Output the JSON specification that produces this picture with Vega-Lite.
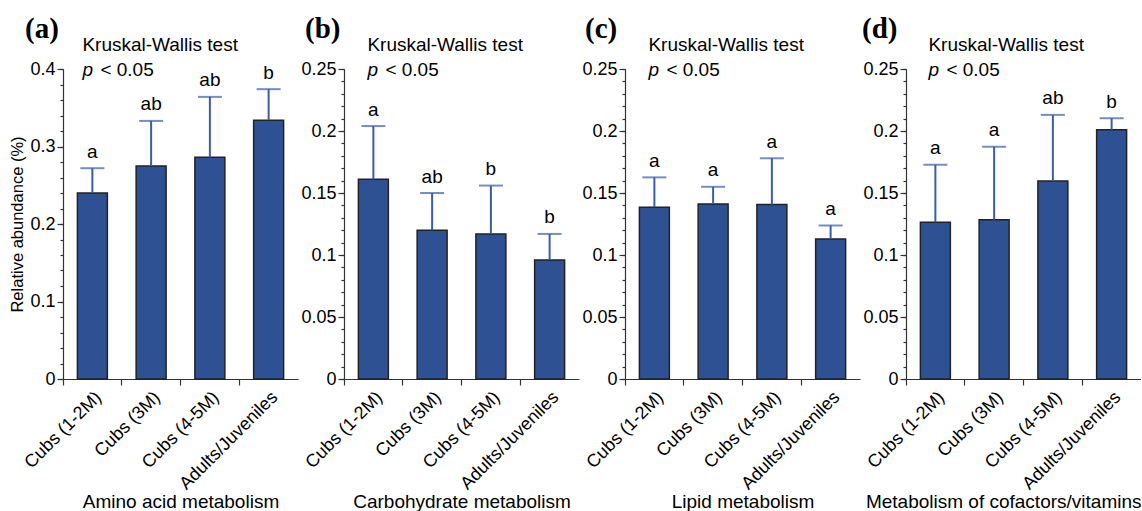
{
  "$schema": "https://vega.github.io/schema/vega-lite/v6.json",
  "background": "white",
  "padding": {"left": 9, "top": 15, "right": 0, "bottom": 0},
  "bounds": "flush",
  "spacing": 46,
  "datasets": {
    "bars": [
      {"panel": "a", "group": "Cubs (1-2M)", "mean": 0.240, "upper": 0.272, "letter": "a"},
      {"panel": "a", "group": "Cubs (3M)", "mean": 0.275, "upper": 0.333, "letter": "ab"},
      {"panel": "a", "group": "Cubs (4-5M)", "mean": 0.286, "upper": 0.364, "letter": "ab"},
      {"panel": "a", "group": "Adults/Juveniles", "mean": 0.334, "upper": 0.374, "letter": "b"},
      {"panel": "b", "group": "Cubs (1-2M)", "mean": 0.161, "upper": 0.204, "letter": "a"},
      {"panel": "b", "group": "Cubs (3M)", "mean": 0.120, "upper": 0.150, "letter": "ab"},
      {"panel": "b", "group": "Cubs (4-5M)", "mean": 0.117, "upper": 0.156, "letter": "b"},
      {"panel": "b", "group": "Adults/Juveniles", "mean": 0.096, "upper": 0.117, "letter": "b"},
      {"panel": "c", "group": "Cubs (1-2M)", "mean": 0.1385, "upper": 0.1626, "letter": "a"},
      {"panel": "c", "group": "Cubs (3M)", "mean": 0.1412, "upper": 0.155, "letter": "a"},
      {"panel": "c", "group": "Cubs (4-5M)", "mean": 0.1407, "upper": 0.178, "letter": "a"},
      {"panel": "c", "group": "Adults/Juveniles", "mean": 0.113, "upper": 0.1238, "letter": "a"},
      {"panel": "d", "group": "Cubs (1-2M)", "mean": 0.1265, "upper": 0.1728, "letter": "a"},
      {"panel": "d", "group": "Cubs (3M)", "mean": 0.1284, "upper": 0.1873, "letter": "a"},
      {"panel": "d", "group": "Cubs (4-5M)", "mean": 0.1597, "upper": 0.213, "letter": "ab"},
      {"panel": "d", "group": "Adults/Juveniles", "mean": 0.201, "upper": 0.2103, "letter": "b"}
    ]
  },
  "hconcat": [
    {
      "width": 235, "height": 310,
      "title": {"text": "(a)", "anchor": "start", "frame": "group", "dx": -38, "font": "Liberation Serif", "fontSize": 29, "fontWeight": "bold", "color": "black", "offset": -8},
      "data": {"name": "bars"},
      "transform": [{"filter": "datum.panel === 'a'"}],
      "resolve": {"axis": {"x": "independent", "y": "independent"}},
      "layer": [
        {"mark": {"type": "bar", "width": {"band": 0.51}, "fill": "#2E5193", "stroke": "#222222", "strokeWidth": 1.5},
         "encoding": {
           "x": {"field": "group", "type": "nominal", "scale": {"domain": ["Cubs (1-2M)", "Cubs (3M)", "Cubs (4-5M)", "Adults/Juveniles"], "paddingInner": 0, "paddingOuter": 0},
                 "axis": {"orient": "bottom", "ticks": false, "labelAngle": -45, "labelAlign": "right", "labelBaseline": "top", "labelPadding": 9, "labelFontSize": 18, "title": "Amino acid metabolism", "titleFontSize": 19, "titlePadding": 0}},
           "y": {"field": "mean", "type": "quantitative", "scale": {"domain": [0, 0.4], "nice": false},
                 "axis": {"orient": "left", "values": [0, 0.1, 0.2, 0.3, 0.4], "format": "~g", "tickSize": 6, "labelPadding": 2, "labelFontSize": 18, "title": "Relative abundance (%)", "titleFontSize": 16.5}}
         }},
        {"mark": {"type": "rule", "color": "#3A5DA8", "strokeWidth": 2},
         "encoding": {
           "x": {"field": "group", "type": "nominal", "axis": {"orient": "bottom", "bandPosition": 0, "labels": false, "domain": false, "tickSize": 6, "title": null}},
           "y": {"field": "mean", "type": "quantitative", "axis": {"orient": "left", "values": [0, 0.02, 0.04, 0.06, 0.08, 0.1, 0.12, 0.14, 0.16, 0.18, 0.2, 0.22, 0.24, 0.26, 0.28, 0.3, 0.32, 0.34, 0.36, 0.38, 0.4], "labels": false, "domain": false, "tickSize": 3, "title": null}},
           "y2": {"field": "upper"}
         }},
        {"mark": {"type": "tick", "color": "#3A5DA8", "thickness": 2, "size": 24},
         "encoding": {"x": {"field": "group", "type": "nominal", "axis": null}, "y": {"field": "upper", "type": "quantitative", "axis": null}}},
        {"mark": {"type": "text", "fontSize": 19, "dy": -10.5, "baseline": "alphabetic", "color": "black"},
         "encoding": {"x": {"field": "group", "type": "nominal", "axis": null}, "y": {"field": "upper", "type": "quantitative", "axis": null}, "text": {"field": "letter"}}},
        {"data": {"values": [{"t": "Kruskal-Wallis test"}]},
         "mark": {"type": "text", "align": "left", "baseline": "alphabetic", "fontSize": 19, "dx": -10, "dy": -18, "color": "black"},
         "encoding": {"x": {"datum": "Cubs (1-2M)", "type": "nominal", "axis": null}, "y": {"datum": 0.4, "type": "quantitative", "axis": null}, "text": {"field": "t"}}},
        {"data": {"values": [{"t": "p"}]},
         "mark": {"type": "text", "align": "left", "baseline": "alphabetic", "fontSize": 19, "fontStyle": "italic", "dx": -10, "dy": 7, "color": "black"},
         "encoding": {"x": {"datum": "Cubs (1-2M)", "type": "nominal", "axis": null}, "y": {"datum": 0.4, "type": "quantitative", "axis": null}, "text": {"field": "t"}}},
        {"data": {"values": [{"t": "< 0.05"}]},
         "mark": {"type": "text", "align": "left", "baseline": "alphabetic", "fontSize": 19, "dx": 8, "dy": 7, "color": "black"},
         "encoding": {"x": {"datum": "Cubs (1-2M)", "type": "nominal", "axis": null}, "y": {"datum": 0.4, "type": "quantitative", "axis": null}, "text": {"field": "t"}}}
      ]
    },
    {
      "width": 235, "height": 310,
      "title": {"text": "(b)", "anchor": "start", "frame": "group", "dx": -39, "font": "Liberation Serif", "fontSize": 29, "fontWeight": "bold", "color": "black", "offset": -8},
      "data": {"name": "bars"},
      "transform": [{"filter": "datum.panel === 'b'"}],
      "resolve": {"axis": {"x": "independent", "y": "independent"}},
      "layer": [
        {"mark": {"type": "bar", "width": {"band": 0.51}, "fill": "#2E5193", "stroke": "#222222", "strokeWidth": 1.5},
         "encoding": {
           "x": {"field": "group", "type": "nominal", "scale": {"domain": ["Cubs (1-2M)", "Cubs (3M)", "Cubs (4-5M)", "Adults/Juveniles"], "paddingInner": 0, "paddingOuter": 0},
                 "axis": {"orient": "bottom", "ticks": false, "labelAngle": -45, "labelAlign": "right", "labelBaseline": "top", "labelPadding": 9, "labelFontSize": 18, "title": "Carbohydrate metabolism", "titleFontSize": 19, "titlePadding": 0}},
           "y": {"field": "mean", "type": "quantitative", "scale": {"domain": [0, 0.25], "nice": false},
                 "axis": {"orient": "left", "values": [0, 0.05, 0.1, 0.15, 0.2, 0.25], "format": "~g", "tickSize": 6, "labelPadding": 2, "labelFontSize": 18, "title": null}}
         }},
        {"mark": {"type": "rule", "color": "#3A5DA8", "strokeWidth": 2},
         "encoding": {
           "x": {"field": "group", "type": "nominal", "axis": {"orient": "bottom", "bandPosition": 0, "labels": false, "domain": false, "tickSize": 6, "title": null}},
           "y": {"field": "mean", "type": "quantitative", "axis": {"orient": "left", "values": [0, 0.01, 0.02, 0.03, 0.04, 0.05, 0.06, 0.07, 0.08, 0.09, 0.1, 0.11, 0.12, 0.13, 0.14, 0.15, 0.16, 0.17, 0.18, 0.19, 0.2, 0.21, 0.22, 0.23, 0.24, 0.25], "labels": false, "domain": false, "tickSize": 3, "title": null}},
           "y2": {"field": "upper"}
         }},
        {"mark": {"type": "tick", "color": "#3A5DA8", "thickness": 2, "size": 24},
         "encoding": {"x": {"field": "group", "type": "nominal", "axis": null}, "y": {"field": "upper", "type": "quantitative", "axis": null}}},
        {"mark": {"type": "text", "fontSize": 19, "dy": -10.5, "baseline": "alphabetic", "color": "black"},
         "encoding": {"x": {"field": "group", "type": "nominal", "axis": null}, "y": {"field": "upper", "type": "quantitative", "axis": null}, "text": {"field": "letter"}}},
        {"data": {"values": [{"t": "Kruskal-Wallis test"}]},
         "mark": {"type": "text", "align": "left", "baseline": "alphabetic", "fontSize": 19, "dx": -6, "dy": -18, "color": "black"},
         "encoding": {"x": {"datum": "Cubs (1-2M)", "type": "nominal", "axis": null}, "y": {"datum": 0.25, "type": "quantitative", "axis": null}, "text": {"field": "t"}}},
        {"data": {"values": [{"t": "p"}]},
         "mark": {"type": "text", "align": "left", "baseline": "alphabetic", "fontSize": 19, "fontStyle": "italic", "dx": -6, "dy": 7, "color": "black"},
         "encoding": {"x": {"datum": "Cubs (1-2M)", "type": "nominal", "axis": null}, "y": {"datum": 0.25, "type": "quantitative", "axis": null}, "text": {"field": "t"}}},
        {"data": {"values": [{"t": "< 0.05"}]},
         "mark": {"type": "text", "align": "left", "baseline": "alphabetic", "fontSize": 19, "dx": 12, "dy": 7, "color": "black"},
         "encoding": {"x": {"datum": "Cubs (1-2M)", "type": "nominal", "axis": null}, "y": {"datum": 0.25, "type": "quantitative", "axis": null}, "text": {"field": "t"}}}
      ]
    },
    {
      "width": 235, "height": 310,
      "title": {"text": "(c)", "anchor": "start", "frame": "group", "dx": -40, "font": "Liberation Serif", "fontSize": 29, "fontWeight": "bold", "color": "black", "offset": -8},
      "data": {"name": "bars"},
      "transform": [{"filter": "datum.panel === 'c'"}],
      "resolve": {"axis": {"x": "independent", "y": "independent"}},
      "layer": [
        {"mark": {"type": "bar", "width": {"band": 0.51}, "fill": "#2E5193", "stroke": "#222222", "strokeWidth": 1.5},
         "encoding": {
           "x": {"field": "group", "type": "nominal", "scale": {"domain": ["Cubs (1-2M)", "Cubs (3M)", "Cubs (4-5M)", "Adults/Juveniles"], "paddingInner": 0, "paddingOuter": 0},
                 "axis": {"orient": "bottom", "ticks": false, "labelAngle": -45, "labelAlign": "right", "labelBaseline": "top", "labelPadding": 9, "labelFontSize": 18, "title": "Lipid metabolism", "titleFontSize": 19, "titlePadding": 0}},
           "y": {"field": "mean", "type": "quantitative", "scale": {"domain": [0, 0.25], "nice": false},
                 "axis": {"orient": "left", "values": [0, 0.05, 0.1, 0.15, 0.2, 0.25], "format": "~g", "tickSize": 6, "labelPadding": 2, "labelFontSize": 18, "title": null}}
         }},
        {"mark": {"type": "rule", "color": "#3A5DA8", "strokeWidth": 2},
         "encoding": {
           "x": {"field": "group", "type": "nominal", "axis": {"orient": "bottom", "bandPosition": 0, "labels": false, "domain": false, "tickSize": 6, "title": null}},
           "y": {"field": "mean", "type": "quantitative", "axis": {"orient": "left", "values": [0, 0.01, 0.02, 0.03, 0.04, 0.05, 0.06, 0.07, 0.08, 0.09, 0.1, 0.11, 0.12, 0.13, 0.14, 0.15, 0.16, 0.17, 0.18, 0.19, 0.2, 0.21, 0.22, 0.23, 0.24, 0.25], "labels": false, "domain": false, "tickSize": 3, "title": null}},
           "y2": {"field": "upper"}
         }},
        {"mark": {"type": "tick", "color": "#3A5DA8", "thickness": 2, "size": 24},
         "encoding": {"x": {"field": "group", "type": "nominal", "axis": null}, "y": {"field": "upper", "type": "quantitative", "axis": null}}},
        {"mark": {"type": "text", "fontSize": 19, "dy": -10.5, "baseline": "alphabetic", "color": "black"},
         "encoding": {"x": {"field": "group", "type": "nominal", "axis": null}, "y": {"field": "upper", "type": "quantitative", "axis": null}, "text": {"field": "letter"}}},
        {"data": {"values": [{"t": "Kruskal-Wallis test"}]},
         "mark": {"type": "text", "align": "left", "baseline": "alphabetic", "fontSize": 19, "dx": -6, "dy": -18, "color": "black"},
         "encoding": {"x": {"datum": "Cubs (1-2M)", "type": "nominal", "axis": null}, "y": {"datum": 0.25, "type": "quantitative", "axis": null}, "text": {"field": "t"}}},
        {"data": {"values": [{"t": "p"}]},
         "mark": {"type": "text", "align": "left", "baseline": "alphabetic", "fontSize": 19, "fontStyle": "italic", "dx": -6, "dy": 7, "color": "black"},
         "encoding": {"x": {"datum": "Cubs (1-2M)", "type": "nominal", "axis": null}, "y": {"datum": 0.25, "type": "quantitative", "axis": null}, "text": {"field": "t"}}},
        {"data": {"values": [{"t": "< 0.05"}]},
         "mark": {"type": "text", "align": "left", "baseline": "alphabetic", "fontSize": 19, "dx": 12, "dy": 7, "color": "black"},
         "encoding": {"x": {"datum": "Cubs (1-2M)", "type": "nominal", "axis": null}, "y": {"datum": 0.25, "type": "quantitative", "axis": null}, "text": {"field": "t"}}}
      ]
    },
    {
      "width": 235, "height": 310,
      "title": {"text": "(d)", "anchor": "start", "frame": "group", "dx": -44, "font": "Liberation Serif", "fontSize": 29, "fontWeight": "bold", "color": "black", "offset": -8},
      "data": {"name": "bars"},
      "transform": [{"filter": "datum.panel === 'd'"}],
      "resolve": {"axis": {"x": "independent", "y": "independent"}},
      "layer": [
        {"mark": {"type": "bar", "width": {"band": 0.51}, "fill": "#2E5193", "stroke": "#222222", "strokeWidth": 1.5},
         "encoding": {
           "x": {"field": "group", "type": "nominal", "scale": {"domain": ["Cubs (1-2M)", "Cubs (3M)", "Cubs (4-5M)", "Adults/Juveniles"], "paddingInner": 0, "paddingOuter": 0},
                 "axis": {"orient": "bottom", "ticks": false, "labelAngle": -45, "labelAlign": "right", "labelBaseline": "top", "labelPadding": 9, "labelFontSize": 18, "title": "Metabolism of cofactors/vitamins", "titleFontSize": 19, "titleAnchor": "end", "titlePadding": 0}},
           "y": {"field": "mean", "type": "quantitative", "scale": {"domain": [0, 0.25], "nice": false},
                 "axis": {"orient": "left", "values": [0, 0.05, 0.1, 0.15, 0.2, 0.25], "format": "~g", "tickSize": 6, "labelPadding": 2, "labelFontSize": 18, "title": null}}
         }},
        {"mark": {"type": "rule", "color": "#3A5DA8", "strokeWidth": 2},
         "encoding": {
           "x": {"field": "group", "type": "nominal", "axis": {"orient": "bottom", "bandPosition": 0, "labels": false, "domain": false, "tickSize": 6, "title": null}},
           "y": {"field": "mean", "type": "quantitative", "axis": {"orient": "left", "values": [0, 0.01, 0.02, 0.03, 0.04, 0.05, 0.06, 0.07, 0.08, 0.09, 0.1, 0.11, 0.12, 0.13, 0.14, 0.15, 0.16, 0.17, 0.18, 0.19, 0.2, 0.21, 0.22, 0.23, 0.24, 0.25], "labels": false, "domain": false, "tickSize": 3, "title": null}},
           "y2": {"field": "upper"}
         }},
        {"mark": {"type": "tick", "color": "#3A5DA8", "thickness": 2, "size": 24},
         "encoding": {"x": {"field": "group", "type": "nominal", "axis": null}, "y": {"field": "upper", "type": "quantitative", "axis": null}}},
        {"mark": {"type": "text", "fontSize": 19, "dy": -10.5, "baseline": "alphabetic", "color": "black"},
         "encoding": {"x": {"field": "group", "type": "nominal", "axis": null}, "y": {"field": "upper", "type": "quantitative", "axis": null}, "text": {"field": "letter"}}},
        {"data": {"values": [{"t": "Kruskal-Wallis test"}]},
         "mark": {"type": "text", "align": "left", "baseline": "alphabetic", "fontSize": 19, "dx": -7, "dy": -18, "color": "black"},
         "encoding": {"x": {"datum": "Cubs (1-2M)", "type": "nominal", "axis": null}, "y": {"datum": 0.25, "type": "quantitative", "axis": null}, "text": {"field": "t"}}},
        {"data": {"values": [{"t": "p"}]},
         "mark": {"type": "text", "align": "left", "baseline": "alphabetic", "fontSize": 19, "fontStyle": "italic", "dx": -7, "dy": 7, "color": "black"},
         "encoding": {"x": {"datum": "Cubs (1-2M)", "type": "nominal", "axis": null}, "y": {"datum": 0.25, "type": "quantitative", "axis": null}, "text": {"field": "t"}}},
        {"data": {"values": [{"t": "< 0.05"}]},
         "mark": {"type": "text", "align": "left", "baseline": "alphabetic", "fontSize": 19, "dx": 11, "dy": 7, "color": "black"},
         "encoding": {"x": {"datum": "Cubs (1-2M)", "type": "nominal", "axis": null}, "y": {"datum": 0.25, "type": "quantitative", "axis": null}, "text": {"field": "t"}}}
      ]
    }
  ],
  "config": {
    "view": {"stroke": null},
    "font": "Liberation Sans",
    "axis": {"grid": false, "labelFont": "Liberation Sans", "titleFont": "Liberation Sans", "labelColor": "black", "titleColor": "black", "titleFontWeight": "normal", "domainColor": "#333333", "tickColor": "#333333", "domainWidth": 1.2, "tickWidth": 1.2, "labelOverlap": false},
    "text": {"font": "Liberation Sans"}
  }
}
